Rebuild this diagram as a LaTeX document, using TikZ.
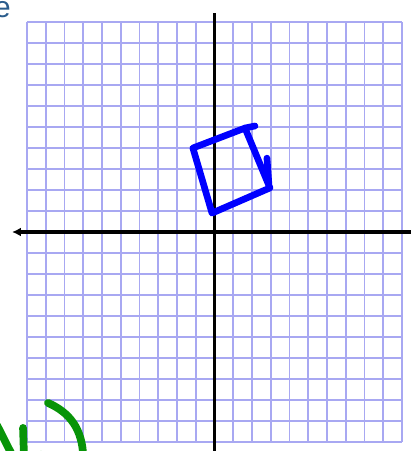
\documentclass[tikz,border=0pt]{standalone}
\usepackage{fontspec}
\setmainfont{Liberation Sans}
\usepackage{tikz}
\usetikzlibrary{arrows.meta}
\definecolor{gridblue}{RGB}{168,168,242}
\definecolor{pengreen}{RGB}{8,148,8}
\definecolor{titleblue}{RGB}{42,92,140}
\tikzset{
  gridline/.style={gridblue,line width=1pt},
  axisline/.style={black,line width=1.9pt},
  penblue/.style={blue,line width=3.8pt,line cap=round,line join=round},
  pengreenline/.style={pengreen,line width=4.4pt,line cap=round}
}

\begin{document}
\begin{tikzpicture}[x=0.375cm,y=0.42cm]
  \useasboundingbox (-11.44,-10.43) rectangle (10.48,11.05);
  \clip (-11.44,-10.43) rectangle (10.48,11.05);
  % graph paper
  \foreach \v in {-10,...,10}{
    \draw[gridline] (\v,-10)--(\v,10);
    \draw[gridline] (-10,\v)--(10,\v);
  }
  % axes
  \draw[axisline,{Latex[length=5pt,width=5pt]}-] (-10.8,0)--(10.8,0);
  \draw[axisline] (0,10.43)--(0,-10.8);
  % cut-off heading letter
  \node[titleblue,anchor=base east,inner sep=0pt,font=\fontsize{17}{20}\selectfont] (head) at (-10.85,10.21) {e};
  % hand-drawn quadrilateral
  \draw[penblue] (-0.13,0.9)--(-1.15,4.0)--(1.63,4.95)--(2.96,2.1)--cycle;
  \draw[penblue] (1.63,4.95)--(2.16,5.05);
  \draw[penblue] (2.8,3.52)--(2.9,2.3);
  % green scribbles
  \draw[pengreenline] (-8.88,-8.14) .. controls (-7.7,-8.6) and (-7.05,-9.4) .. (-7.0,-10.7);
  \draw[pengreenline] (-10.21,-9.33)--(-10.16,-10.7);
  \draw[pengreenline] (-11.6,-9.2)--(-10.75,-10.7);
  \fill[pengreen] (-9.25,-10.6) circle (0.18);
\end{tikzpicture}
\end{document}
